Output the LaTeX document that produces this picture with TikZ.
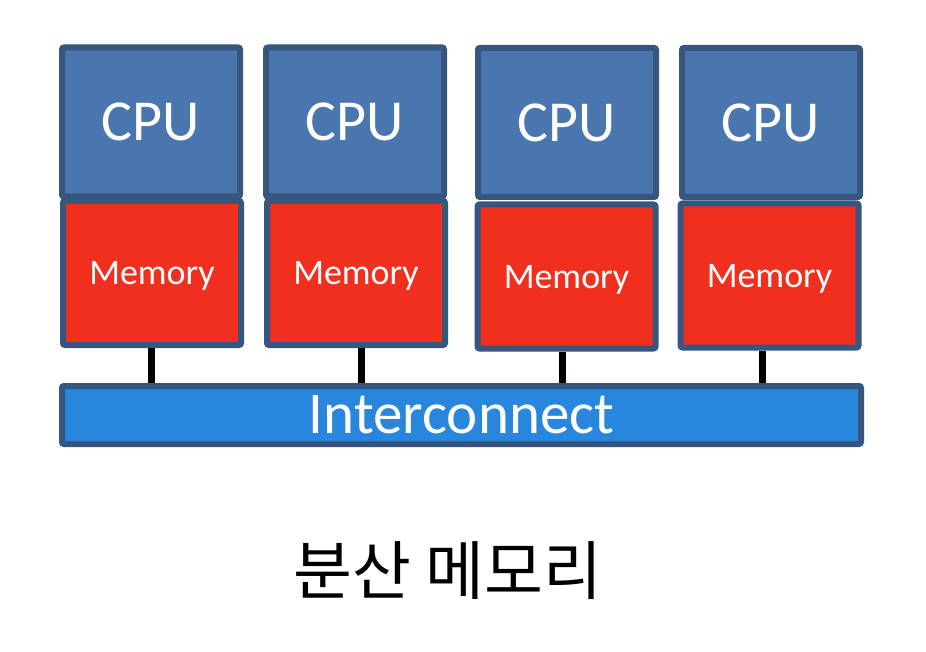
\documentclass[tikz,border=0pt]{standalone}
\usepackage{fontspec}
\setmainfont{Carlito}
\newfontfamily\krfont{Noto Sans CJK KR}
\usetikzlibrary{calc}
\definecolor{cpublue}{RGB}{74,118,176}
\definecolor{edgeblue}{RGB}{54,85,127}
\definecolor{memred}{RGB}{240,47,30}
\definecolor{icblue}{RGB}{40,135,220}
\tikzset{
  box/.style={draw=edgeblue, line width=6pt, rounded corners=2pt, inner sep=0pt, text=white},
  cpubox/.style={box, fill=cpublue, minimum width=178pt, minimum height=149pt, font=\fontsize{58}{58}\selectfont},
  membox/.style={box, fill=memred, minimum width=178pt, minimum height=144pt, text depth=0pt, font=\fontsize{36}{36}\selectfont},
  icbox/.style={box, fill=icblue, minimum width=799pt, minimum height=58pt, font=\fontsize{59}{59}\selectfont},
  conn/.style={line width=7pt, black},
}
\begin{document}
\begin{tikzpicture}[x=1pt,y=-1pt]
\useasboundingbox (0,0) rectangle (926,652);
% CPUs
\node[cpubox] (c1) at (151,122) {CPU};
\node[cpubox] (c2) at (355,122) {CPU};
\node[cpubox] (c3) at (567,122.5) {CPU};
\node[cpubox] (c4) at (771,122.5) {CPU};
% Memories
\node[membox] (m1) at (152,273) {Memory};
\node[membox] (m2) at (356,273) {Memory};
\node[membox] (m3) at (566.5,276.5) {Memory};
\node[membox] (m4) at (769.5,275.5) {Memory};
% Interconnect
\node[icbox] (ic) at (461.5,415) {Interconnect};
% connectors
\coordinate (t1) at ($(m1.south)+(-1,0)$);
\coordinate (t2) at ($(m2.south)+(5,0)$);
\coordinate (t3) at ($(m3.south)+(-4.5,0)$);
\coordinate (t4) at ($(m4.south)+(-7.5,0)$);
\draw[conn] (t1) -- (t1 |- ic.north);
\draw[conn] (t2) -- (t2 |- ic.north);
\draw[conn] (t3) -- (t3 |- ic.north);
\draw[conn] (t4) -- (t4 |- ic.north);
% caption
\node[font=\krfont\fontsize{64}{64}\selectfont, inner sep=0pt] (cap) at (448,571) {분산 메모리};
\end{tikzpicture}
\end{document}
